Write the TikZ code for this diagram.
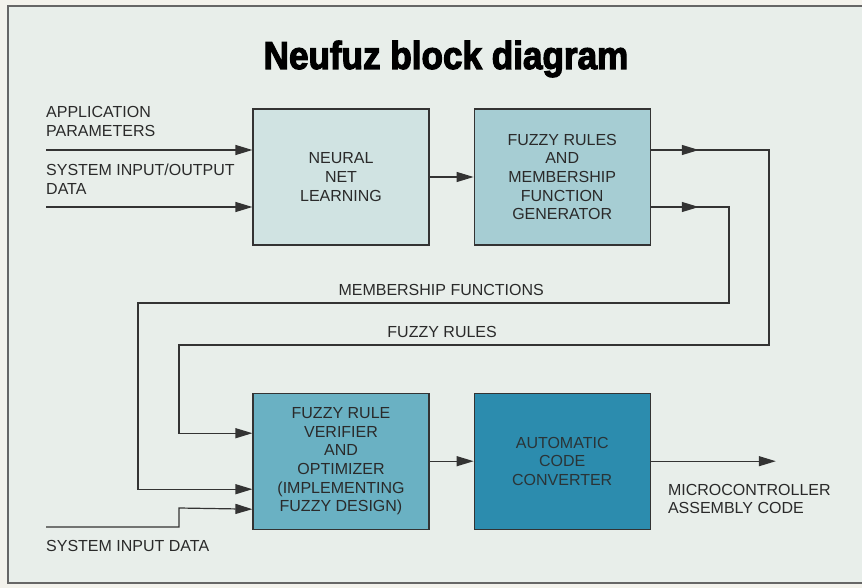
\documentclass[tikz,border=0pt]{standalone}
\usepackage{fontspec}
\setmainfont{Liberation Sans}
\newfontfamily\titlefont[FakeStretch=0.9,BoldFeatures={FakeBold=3}]{Liberation Sans}
\usepackage{tikz}
\usetikzlibrary{arrows.meta,positioning}
\definecolor{paper}{HTML}{F3F2EC}
\definecolor{panel}{HTML}{E8EEEA}
\definecolor{edge}{HTML}{333333}
\definecolor{ink}{HTML}{2A2A2A}
\definecolor{boxA}{HTML}{D0E3E2}
\definecolor{boxB}{HTML}{A6CDD3}
\definecolor{boxC}{HTML}{6AB1C3}
\definecolor{boxD}{HTML}{2C8CAE}

\begin{document}
\begin{tikzpicture}[
  x=1pt, y=-1pt,
  node distance=44pt,
  block/.style={rectangle, draw=edge, line width=1.2pt, text=ink,
                minimum width=176pt, minimum height=136pt, inner sep=0pt,
                align=center, font=\fontsize{16}{18.7}\selectfont},
  wire/.style={draw=edge, line width=1.2pt},
  arr/.style={wire, -{Triangle[length=17pt, width=10pt]}},
  lbl/.style={font=\fontsize{16}{18.7}\selectfont, text=ink, align=left, inner sep=0pt},
]
  \clip (0,0) rectangle (862,588);
  \fill[paper] (0,0) rectangle (862,588);
  \filldraw[fill=panel, draw=edge!75, line width=1.3pt] (8,6) rectangle (880,583);

  \node[font=\titlefont\bfseries\fontsize{39}{41}\selectfont, anchor=base] (title) at (446,69) {Neufuz block diagram};

  % the four blocks
  \node[block, fill=boxA] (nn) at (341,177) {NEURAL\\NET\\LEARNING};
  \node[block, fill=boxB, right=of nn] (gen) {FUZZY RULES\\AND\\MEMBERSHIP\\FUNCTION\\GENERATOR};
  \node[block, fill=boxC, below=147pt of nn] (opt) {FUZZY RULE\\VERIFIER\\AND\\OPTIMIZER\\(IMPLEMENTING\\FUZZY DESIGN)};
  \node[block, fill=boxD, right=of opt, text=ink!90!boxD] (conv) {AUTOMATIC\\CODE\\CONVERTER};

  % inputs
  \coordinate (appIn) at (46,150);
  \coordinate (ioIn) at (46,207);
  \coordinate (sysIn) at (46,527);
  \draw[arr] (appIn) -- (appIn -| nn.west);
  \draw[arr] (ioIn) -- (ioIn -| nn.west);
  \node[lbl, anchor=south west] (appLbl) at ([yshift=13pt]appIn) {APPLICATION\\PARAMETERS};
  \node[lbl, anchor=south west] (ioLbl) at ([yshift=12.5pt]ioIn) {SYSTEM INPUT/OUTPUT\\DATA};

  \draw[arr] (nn.east) -- (gen.west);

  % generator outputs, heads halfway
  \draw[arr] (gen.east |- appIn) -- ++(48,0);
  \draw[arr] (gen.east |- ioIn) -- ++(48,0);
  \draw[arr] (gen.east |- ioIn) -| (729,303)
    -- node[lbl, above=7pt, pos=.487] (mfLbl) {MEMBERSHIP FUNCTIONS} (138,303)
    |- ([yshift=-28pt]opt.west);
  \draw[arr] (gen.east |- appIn) -| (769,345)
    -- node[lbl, above=7pt, pos=.554] (frLbl) {FUZZY RULES} (179,345)
    |- ([yshift=28pt]opt.west);

  \draw[arr] (sysIn) -| (179,508) -- ([yshift=-48pt]opt.west);
  \node[lbl, anchor=north west] (sysLbl) at ([yshift=-13.5pt]sysIn) {SYSTEM INPUT DATA};

  \draw[arr] (opt.east) -- (conv.west);
  \draw[arr] (conv.east) -- ++(125,0);
  \node[lbl, anchor=north west] (mcLbl) at ([xshift=17pt, yshift=-22.5pt]conv.east) {MICROCONTROLLER\\ASSEMBLY CODE};
\end{tikzpicture}
\end{document}
